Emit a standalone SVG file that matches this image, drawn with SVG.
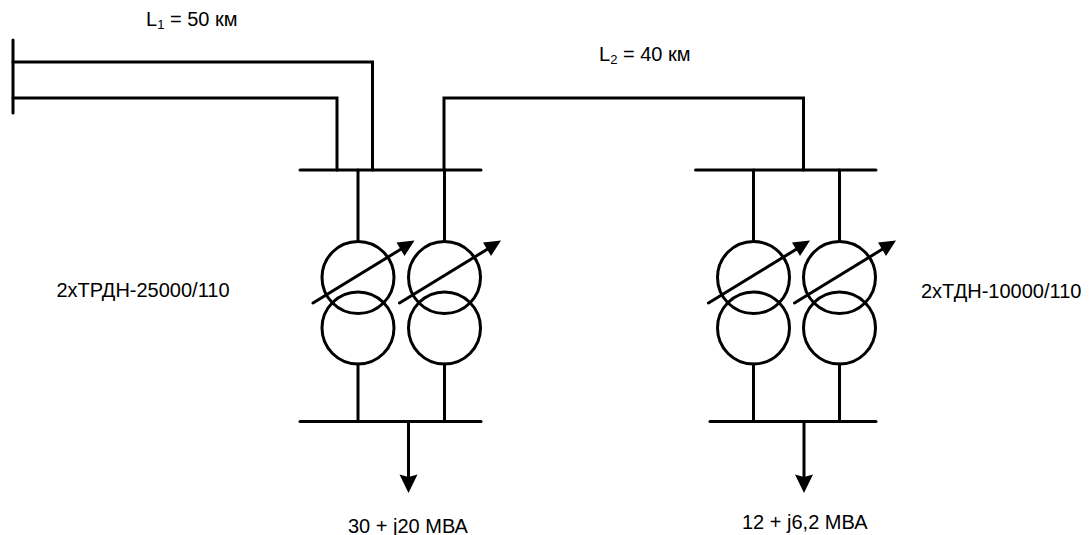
<svg xmlns="http://www.w3.org/2000/svg" width="1089" height="535" viewBox="0 0 1089 535">
<style>
.w{fill:none;stroke:#000;stroke-width:3;stroke-linecap:round;stroke-linejoin:miter}
.c{fill:none;stroke:#000;stroke-width:3}
.t{font-family:"Liberation Sans",Arial,sans-serif;font-size:20px;fill:#000}
.s{font-size:13px}
</style>
<defs>
<g id="tr">
<circle class="c" cx="0" cy="0" r="36"/>
<circle class="c" cx="0" cy="50.500" r="36"/>
<line class="w" x1="-45" y1="25.500" x2="44" y2="-29"/>
<polygon points="56.500,-37 46.500,-21.500 38.500,-35" fill="#000"/>
</g>
</defs>
<rect width="1089" height="535" fill="#fff"/>
<g id="connectors">
<path class="w" d="M13 40V113"/>
<path class="w" d="M13 62H372.500V170"/>
<path class="w" d="M13 98H337V170"/>
<path class="w" d="M444 170V98H803.500V170"/>
<path class="w" d="M358 170V241M444.500 170V241M358 364V421.500M444.500 364V421.500"/>
<path class="w" d="M753.500 170V241M839.500 170V241M753.500 364V421.500M839.500 364V421.500"/>
<path class="w" d="M408.500 421.500V480"/>
<polygon points="399.500,474.500 408.500,477 417.500,474.500 408.500,493"/>
<path class="w" d="M804 421.500V480"/>
<polygon points="795,474.500 804,477 813,474.500 804,493"/>
</g>
<g id="bus-1-hv"><line class="w" x1="300" y1="170" x2="481" y2="170"/></g>
<g id="bus-1-lv"><line class="w" x1="300" y1="421.500" x2="481" y2="421.500"/></g>
<g id="bus-2-hv"><line class="w" x1="695.500" y1="170" x2="876" y2="170"/></g>
<g id="bus-2-lv"><line class="w" x1="710" y1="421.500" x2="876" y2="421.500"/></g>
<g id="t1"><use href="#tr" x="358" y="277.500"/></g>
<g id="t2"><use href="#tr" x="444.500" y="277.500"/></g>
<g id="t3"><use href="#tr" x="753.500" y="277.500"/></g>
<g id="t4"><use href="#tr" x="839.500" y="277.500"/></g>
<g id="labels">
<text class="t" x="146" y="26">L<tspan class="s" dy="3">1</tspan><tspan dy="-3"> = 50 км</tspan></text>
<text class="t" x="599" y="60.500">L<tspan class="s" dy="3">2</tspan><tspan dy="-3"> = 40 км</tspan></text>
<text class="t" x="56.500" y="297">2xТРДН-25000/110</text>
<text class="t" x="921" y="298">2xТДН-10000/110</text>
<text class="t" x="348" y="532.500">30 + j20 МВА</text>
<text class="t" x="742" y="529">12 + j6,2 МВА</text>
</g>
</svg>
